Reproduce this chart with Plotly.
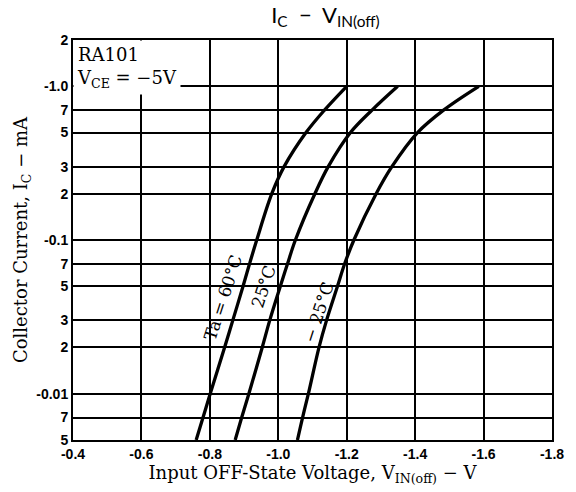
import plotly.graph_objects as go
import numpy as np

# Collector current magnitude (mA) and input OFF-state voltage magnitude (V)
ic = [0.005, 0.007, 0.01, 0.02, 0.03, 0.05, 0.07, 0.1, 0.2, 0.3, 0.5, 0.7, 1.0]
v_60 = [0.760, 0.780, 0.801, 0.843, 0.867, 0.897, 0.916, 0.937, 0.981, 1.017, 1.081, 1.135, 1.200]
v_25 = [0.874, 0.893, 0.914, 0.953, 0.975, 1.006, 1.027, 1.050, 1.107, 1.146, 1.211, 1.274, 1.349]
v_m25 = [1.056, 1.071, 1.088, 1.119, 1.141, 1.173, 1.194, 1.221, 1.286, 1.332, 1.407, 1.483, 1.586]

x_ticks = [0.4, 0.6, 0.8, 1.0, 1.2, 1.4, 1.6, 1.8]
x_ticktext = ["-0.4", "-0.6", "-0.8", "-1.0", "-1.2", "-1.4", "-1.6", "-1.8"]
y_ticks = [0.005, 0.007, 0.01, 0.02, 0.03, 0.05, 0.07, 0.1, 0.2, 0.3, 0.5, 0.7, 1.0, 2.0]
y_ticktext = ["5", "7", "-0.01", "2", "3", "5", "7", "-0.1", "2", "3", "5", "7", "-1.0", "2"]

labels = ["Ta = 60°C", "25°C", "− 25°C"]
label_x = [0.838, 0.958, 1.118]
label_y = [0.042, 0.050, 0.034]

SERIF = "DejaVu Serif"
fig = go.Figure()
for v in [v_60, v_25, v_m25]:
    fig.add_trace(go.Scatter(x=v, y=ic, mode="lines",
                             line=dict(color="black", width=3.3, shape="spline", smoothing=1.0),
                             showlegend=False))

for t, lx, ly in zip(labels, label_x, label_y):
    fig.add_annotation(x=lx, y=np.log10(ly), text=t, showarrow=False,
                       textangle=-72, font=dict(family=SERIF, size=17, color="black"))

fig.add_annotation(xref="paper", yref="paper", x=0.0, y=1.0, xanchor="left", yanchor="top",
                   text="RA101<br>V<sub>CE</sub> = −5V", align="left", showarrow=False,
                   font=dict(family=SERIF, size=18, color="black"),
                   bgcolor="white", borderpad=3)

axis_common = dict(showline=True, linecolor="black", linewidth=2, mirror=True,
                   showgrid=True, gridcolor="black", gridwidth=1.6,
                   ticks="", zeroline=False,
                   tickfont=dict(family="Liberation Sans", size=14, color="black", weight="bold"))

fig.update_xaxes(range=[0.4, 1.8], tickvals=x_ticks, ticktext=x_ticktext,
                 title=dict(text="Input OFF-State Voltage, V<sub>IN(off)</sub> − V",
                            font=dict(family=SERIF, size=18, color="black"), standoff=2),
                 **axis_common)
fig.update_yaxes(type="log", range=[np.log10(0.005), np.log10(2)], tickvals=y_ticks,
                 ticktext=y_ticktext, ticklabelstandoff=0,
                 title=dict(text="Collector Current, I<sub>C</sub> − mA",
                            font=dict(family=SERIF, size=18, color="black"), standoff=4),
                 **axis_common)

fig.update_layout(
    width=576, height=492,
    margin=dict(l=73, r=13, t=40, b=52),
    plot_bgcolor="white", paper_bgcolor="white",
    title=dict(text="I<sub>C</sub>  −  V<sub>IN(off)</sub>", x=0.565, xanchor="center",
               y=0.985, yanchor="top",
               font=dict(family="Lato", size=22, color="black")),
)

fig.write_html("out.html")
